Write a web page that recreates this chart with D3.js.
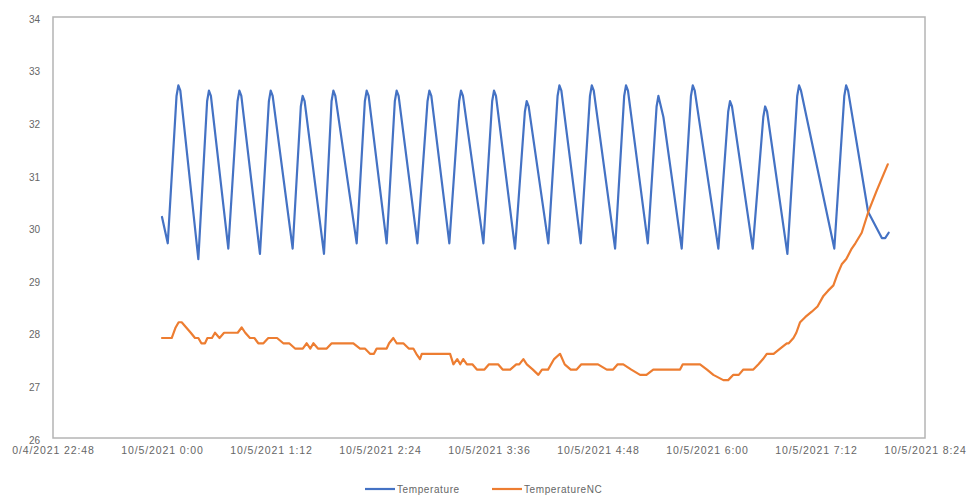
<!DOCTYPE html>
<html>
<head>
<meta charset="utf-8">
<script src="https://cdn.jsdelivr.net/npm/d3@7"></script>
<style>
  html, body { margin: 0; padding: 0; background: #ffffff; }
  svg { display: block; }
  text { font-family: "Liberation Sans", Arial, sans-serif; fill: #666666; }
</style>
</head>
<body>
<svg id="chart" width="971" height="496"></svg>
<script>
// Readings: minutes after 10/5/2021 0:00, temperature (°C)
const temperatureMinutes = [0, 3.8, 9.6, 10.8, 12.1, 24.0, 29.8, 31.0, 32.3, 43.8, 49.9, 51.1, 52.4,
  64.7, 70.6, 71.8, 73.1, 86.3, 91.7, 92.9, 94.2, 107.0, 112.0, 113.2, 114.5, 128.6, 134.0, 135.2, 136.5,
  148.4, 153.8, 155.0, 156.3, 168.7, 175.4, 176.6, 177.9, 189.8, 196.3, 197.5, 198.8, 212.3, 218.1,
  219.3, 220.6, 233.2, 239.7, 240.9, 242.2, 255.2, 261.3, 262.5, 263.8, 276.6, 282.7, 283.9, 285.2,
  299.3, 305.3, 306.5, 307.8, 320.9, 326.7, 327.9, 331.2, 343.3, 349.4, 350.6, 351.9, 367.5, 374.0,
  375.2, 376.5, 390.2, 397.2, 398.4, 399.7, 413.1, 419.6, 420.8, 422.1, 444.1, 450.7, 451.9, 453.2,
  466.4, 475.5, 477.7, 480];
const temperatureValues = [30.2, 29.7, 32.5, 32.7, 32.6, 29.4, 32.4, 32.6, 32.5, 29.6, 32.4, 32.6, 32.5,
  29.5, 32.4, 32.6, 32.5, 29.6, 32.3, 32.5, 32.4, 29.5, 32.4, 32.6, 32.5, 29.7, 32.4, 32.6, 32.5,
  29.7, 32.4, 32.6, 32.5, 29.7, 32.4, 32.6, 32.5, 29.7, 32.4, 32.6, 32.5, 29.7, 32.4,
  32.6, 32.5, 29.6, 32.2, 32.4, 32.3, 29.7, 32.5, 32.7, 32.6, 29.7, 32.5, 32.7, 32.6,
  29.6, 32.5, 32.7, 32.6, 29.7, 32.3, 32.5, 32.1, 29.6, 32.5, 32.7, 32.6, 29.6, 32.2,
  32.4, 32.3, 29.6, 32.1, 32.3, 32.2, 29.5, 32.5, 32.7, 32.6, 29.6, 32.5, 32.7, 32.6,
  30.3, 29.8, 29.8, 29.9];

const temperatureNCMinutes = [0, 6.4, 9, 11, 13, 16, 19, 21.8, 24, 26, 28.4, 30, 33, 35, 38, 41, 44.9, 50,
  52.6, 55, 58.1, 61, 63.6, 67, 70.2, 76, 80.1, 84, 87.9, 93, 95.6, 98, 100, 103, 108.8, 112.1, 126.4,
  130.8, 134, 137.4, 140, 141.8, 148.4, 150, 152.8, 155, 159.4, 163, 166, 168, 170.4, 171.6, 190.3,
  192.5, 195, 197, 199, 201.4, 205, 208, 213, 216, 222, 225, 230, 234, 236, 238.7, 241, 245, 248.6,
  251, 255, 259, 262.9, 266, 270, 273.9, 277, 280.6, 288, 293.8, 298, 301, 304.7, 310, 315.8, 320,
  324.5, 342.2, 344, 355.4, 360, 364.2, 370.8, 374, 377.4, 381, 384, 390.6, 394, 397, 399.5, 404,
  408.3, 412.7, 414, 417.1, 419, 421.5, 425, 429.2, 433, 436.9, 440, 443.5, 446, 449, 452, 455.6,
  458, 462.2, 466.6, 472.1, 479.4];
const temperatureNCValues = [27.9, 27.9, 28.1, 28.2, 28.2, 28.1, 28.0, 27.9, 27.9, 27.8, 27.8, 27.9, 27.9,
  28.0, 27.9, 28.0, 28.0, 28.0, 28.1, 28.0, 27.9, 27.9, 27.8, 27.8, 27.9, 27.9, 27.8, 27.8, 27.7, 27.7,
  27.8, 27.7, 27.8, 27.7, 27.7, 27.8, 27.8, 27.7, 27.7, 27.6, 27.6, 27.7, 27.7, 27.8, 27.9, 27.8, 27.8,
  27.7, 27.7, 27.6, 27.5, 27.6, 27.6, 27.4, 27.5, 27.4, 27.5, 27.4, 27.4, 27.3, 27.3, 27.4, 27.4, 27.3,
  27.3, 27.4, 27.4, 27.5, 27.4, 27.3, 27.2, 27.3, 27.3, 27.5, 27.6, 27.4, 27.3, 27.3, 27.4, 27.4, 27.4,
  27.3, 27.3, 27.4, 27.4, 27.3, 27.2, 27.2, 27.3, 27.3, 27.4, 27.4, 27.3, 27.2, 27.1, 27.1, 27.2, 27.2,
  27.3, 27.3, 27.4, 27.5, 27.6, 27.6, 27.7, 27.8, 27.8, 27.9, 28.0, 28.2, 28.3, 28.4, 28.5, 28.7, 28.8,
  28.9, 29.1, 29.3, 29.4, 29.6, 29.7, 29.9, 30.3, 30.7, 31.2];

// Category axis ticks, every 72 minutes from 10/4/2021 22:48
const xTickMinutes = [-72, 0, 72, 144, 216, 288, 360, 432, 504];
const xTickLabels = ["0/4/2021 22:48", "10/5/2021 0:00", "10/5/2021 1:12", "10/5/2021 2:24",
  "10/5/2021 3:36", "10/5/2021 4:48", "10/5/2021 6:00", "10/5/2021 7:12", "10/5/2021 8:24"];
const yTicks = [26, 27, 28, 29, 30, 31, 32, 33, 34];

const seriesNames = ["Temperature", "TemperatureNC"];
const seriesColors = ["#4472C4", "#ED7D31"];

const base = new Date(2021, 9, 5, 0, 0);
const toDate = m => new Date(base.getTime() + m * 60000);

const series = [
  temperatureMinutes.map((m, i) => ({ t: toDate(m), v: temperatureValues[i] })),
  temperatureNCMinutes.map((m, i) => ({ t: toDate(m), v: temperatureNCValues[i] }))
];

const svg = d3.select("#chart");
const plot = { left: 53, right: 925, top: 17, bottom: 438 };

const x = d3.scaleTime()
  .domain([toDate(xTickMinutes[0]), toDate(xTickMinutes[xTickMinutes.length - 1])])
  .range([plot.left, plot.right]);
const y = d3.scaleLinear().domain([26, 34]).range([plot.bottom, plot.top]);

// Plot-area frame
svg.append("rect")
  .attr("x", plot.left).attr("y", plot.top)
  .attr("width", plot.right - plot.left).attr("height", plot.bottom - plot.top)
  .attr("fill", "none").attr("stroke", "#b4b4b4").attr("stroke-width", 1.5);

// Y axis labels
const yAxis = d3.axisLeft(y).tickValues(yTicks).tickSize(0).tickPadding(13).tickFormat(d3.format("d"));
svg.append("g").attr("transform", `translate(${plot.left},2)`).call(yAxis)
  .call(g => g.select(".domain").remove())
  .call(g => g.selectAll("text").style("font-size", "10px").style("fill", "#666666")
    .style("font-family", "Liberation Sans, Arial, sans-serif"));

// X axis labels
const xAxis = d3.axisBottom(x).tickValues(xTickMinutes.map(toDate)).tickSize(0).tickPadding(9)
  .tickFormat((d, i) => xTickLabels[i]);
svg.append("g").attr("transform", `translate(0,${plot.bottom})`).call(xAxis)
  .call(g => g.select(".domain").remove())
  .call(g => g.selectAll("text").style("font-size", "10.5px").style("letter-spacing", "0.9px")
    .style("fill", "#666666").style("font-family", "Liberation Sans, Arial, sans-serif"));

// Series lines
const line = d3.line().x(d => x(d.t)).y(d => y(d.v));
series.forEach((s, i) => {
  svg.append("path").datum(s)
    .attr("d", line)
    .attr("fill", "none")
    .attr("stroke", seriesColors[i])
    .attr("stroke-width", 2.2)
    .attr("stroke-linejoin", "round")
    .attr("stroke-linecap", "round");
});

// Legend
const legendItems = [{ x: 365, w: 30 }, { x: 492, w: 30 }];
const legend = svg.append("g").attr("transform", "translate(0,489)");
seriesNames.forEach((name, i) => {
  const g = legend.append("g").attr("transform", `translate(${legendItems[i].x},0)`);
  g.append("line").attr("x1", 0).attr("x2", legendItems[i].w).attr("y1", 0).attr("y2", 0)
    .attr("stroke", seriesColors[i]).attr("stroke-width", 2.2);
  g.append("text").attr("x", legendItems[i].w + 2).attr("y", 3.5)
    .style("font-size", "10px").style("letter-spacing", "0.6px").text(name);
});
</script>
</body>
</html>
